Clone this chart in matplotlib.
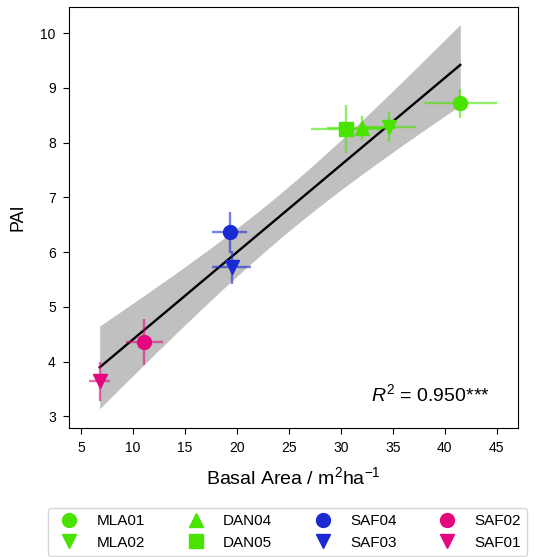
import numpy as np
import matplotlib
matplotlib.use('Agg')
import matplotlib.pyplot as plt

plt.rcParams['font.family'] = ['Liberation Sans', 'DejaVu Sans']
plt.rcParams['mathtext.fontset'] = 'custom'
plt.rcParams['mathtext.rm'] = 'Liberation Sans'
plt.rcParams['mathtext.it'] = 'Liberation Sans:italic'

# 数据：每个样地的胸高断面积与PAI（含误差）
sites = ['MLA01', 'MLA02', 'DAN04', 'DAN05', 'SAF04', 'SAF03', 'SAF02', 'SAF01']
basal = [41.5, 34.6, 32.0, 30.5, 19.3, 19.5, 11.1, 6.8]
basal_err = [3.5, 2.6, 3.3, 3.4, 1.7, 1.9, 1.75, 1.0]
pai = [8.72, 8.29, 8.27, 8.25, 6.36, 5.72, 4.35, 3.64]
pai_err = [0.26, 0.28, 0.22, 0.43, 0.37, 0.30, 0.42, 0.36]
markers = ['o', 'v', '^', 's', 'o', 'v', 'o', 'v']
green, blue, pink = '#48e400', '#1a2ad2', '#e3067e'
colors = [green, green, green, green, blue, blue, pink, pink]

x = np.array(basal)
y = np.array(pai)

# 线性回归 + 95%置信区间
slope, intercept = np.polyfit(x, y, 1)
n = len(x)
resid = y - (slope * x + intercept)
s = np.sqrt(np.sum(resid ** 2) / (n - 2))
t_val = 2.447  # t(0.975, df=6)
xs = np.linspace(x.min(), x.max(), 100)
ys = slope * xs + intercept
se = s * np.sqrt(1 / n + (xs - x.mean()) ** 2 / np.sum((x - x.mean()) ** 2))

fig = plt.figure(figsize=(5.34, 5.57), dpi=100)
ax = fig.add_axes([0.1292, 0.2321, 0.9706 - 0.1292, 0.9874 - 0.2321])

ax.fill_between(xs, ys - t_val * se, ys + t_val * se, color='#c0c0c0', lw=0, zorder=1)
ax.plot(xs, ys, color='black', lw=1.7, zorder=2)

for i in range(n):
    ax.errorbar(basal[i], pai[i], xerr=basal_err[i], yerr=pai_err[i], fmt='none',
                ecolor=colors[i], elinewidth=1.7, alpha=0.6, zorder=3)
    ax.plot(basal[i], pai[i], marker=markers[i], color=colors[i], ms=10, ls='none',
            label=sites[i], zorder=4)

ax.text(0.937, 0.08, r'$R^2$ = 0.950***', transform=ax.transAxes, ha='right', va='center', fontsize=14)

ax.set_xlim(3.845, 47.08)
ax.set_ylim(2.79, 10.48)
ax.set_xticks(range(5, 50, 5))
ax.set_yticks(range(3, 11))
ax.tick_params(labelsize=10, length=4.5, pad=5)
ax.set_xlabel('Basal Area / m$^2$ha$^{-1}$', fontsize=14, labelpad=8)
ax.set_ylabel('PAI', fontsize=13, labelpad=10)

fig.legend(loc='upper left', bbox_to_anchor=(48 / 534, 1 - 508 / 557), borderaxespad=0,
           ncol=4, fontsize=11, columnspacing=2.3, handletextpad=0.8)

plt.savefig('out.png', dpi=100)
